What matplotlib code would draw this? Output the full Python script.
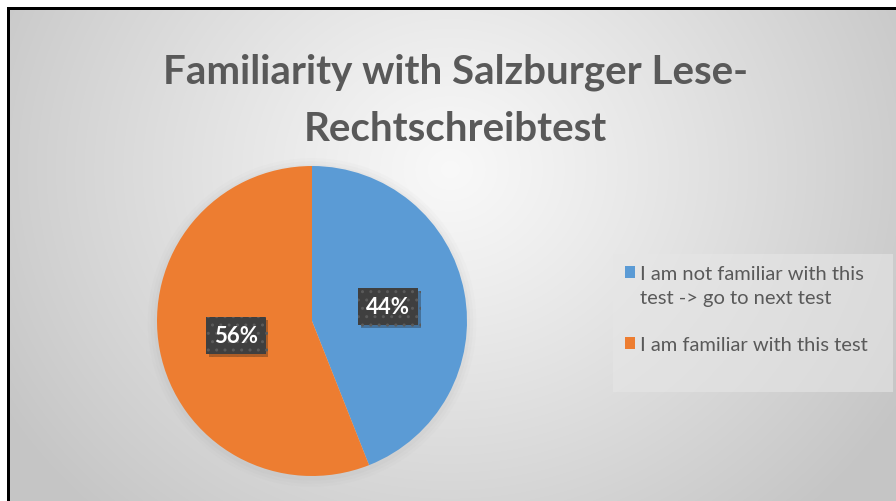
import matplotlib.pyplot as plt
import matplotlib.patheffects as pe
import numpy as np
from matplotlib.patches import Rectangle
from matplotlib.legend_handler import HandlerPatch

plt.rcParams['font.family'] = ['Lato', 'DejaVu Sans']

TITLE = "Familiarity with Salzburger Lese-\nRechtschreibtest"
LABELS = ["I am not familiar with this\ntest -> go to next test",
          "I am familiar with this test"]
SHARES = [44, 56]
COLORS = ["#5b9bd5", "#ed7d31"]

W, H = 896, 502
fig = plt.figure(figsize=(W / 100, H / 100), dpi=100)

# background: radial grey gradient, black frame on top/left
bg = fig.add_axes([0, 0, 1, 1])
bg.set_xlim(0, W)
bg.set_ylim(H, 0)
bg.axis("off")
yy, xx = np.mgrid[0:H, 0:W]
d = np.hypot((xx - 450) / 1.0, (yy - 170) / 0.9)
d = np.clip(d / 520.0, 0, 1)
val = 0.975 - 0.20 * d ** 1.1
img = np.dstack([val, val, val])
img[:, :7] = 1.0
img[:8, :] = 1.0
img[8:11, 7:] = 0.0
img[8:, 7:10] = 0.0
bg.imshow(img, extent=(0, W, H, 0), aspect="auto", interpolation="bilinear")

fig.text(0.508, 0.893, TITLE, ha="center", va="top", fontsize=29,
         fontweight="bold", color="#595959", linespacing=1.65)

# legend frame
bg.add_patch(Rectangle((613, 255), 280, 138, fc="#e6e6e6", ec="none",
                       alpha=0.6))

# pie
ax = fig.add_axes([157 / W, 25 / H, 310 / W, 310 / H])
ax.set_xlim(-1, 1)
ax.set_ylim(-1, 1)
ax.axis("off")

# soft shadow behind pie
for r, a in [(1.06, 0.03), (1.04, 0.04), (1.02, 0.05)]:
    ax.add_patch(plt.Circle((0.0, -0.01), r, color="#909090", alpha=a,
                            lw=0, clip_on=False))

wedges, texts, autotexts = ax.pie(
    SHARES, colors=COLORS, startangle=90, counterclock=False,
    autopct="%1.0f%%", pctdistance=0.5, radius=1,
    wedgeprops=dict(lw=0), frame=False)
ax.set_xlim(-1, 1)
ax.set_ylim(-1, 1)

for t in autotexts:
    t.set_fontsize(16)
    t.set_fontweight("bold")
    t.set_color("white")
    t.set_zorder(5)
    t.set_bbox(dict(boxstyle="square,pad=0.35", fc="#3f3f3f",
                    ec="#5a5a5a", lw=0, hatch=".."))
    t.get_bbox_patch().set_path_effects(
        [pe.SimplePatchShadow(offset=(2, -2), alpha=0.3), pe.Normal()])


def top_square(legend, orig_handle, xdescent, ydescent, width, height,
               fontsize):
    # put the square next to the first line of a two-line label
    return Rectangle((-xdescent, -ydescent + 0.66 * fontsize), width, height)


leg = fig.legend(wedges, LABELS, loc="upper left",
                 bbox_to_anchor=(607 / W, 1 - 248 / H), frameon=False,
                 fontsize=14.5, labelcolor="#595959", handlelength=0.5,
                 handleheight=0.5, handletextpad=0.25, labelspacing=1.5,
                 handler_map={wedges[0]: HandlerPatch(patch_func=top_square)})
for line in leg.get_texts():
    line.set_linespacing(1.5)

fig.savefig("out.png", dpi=100)
